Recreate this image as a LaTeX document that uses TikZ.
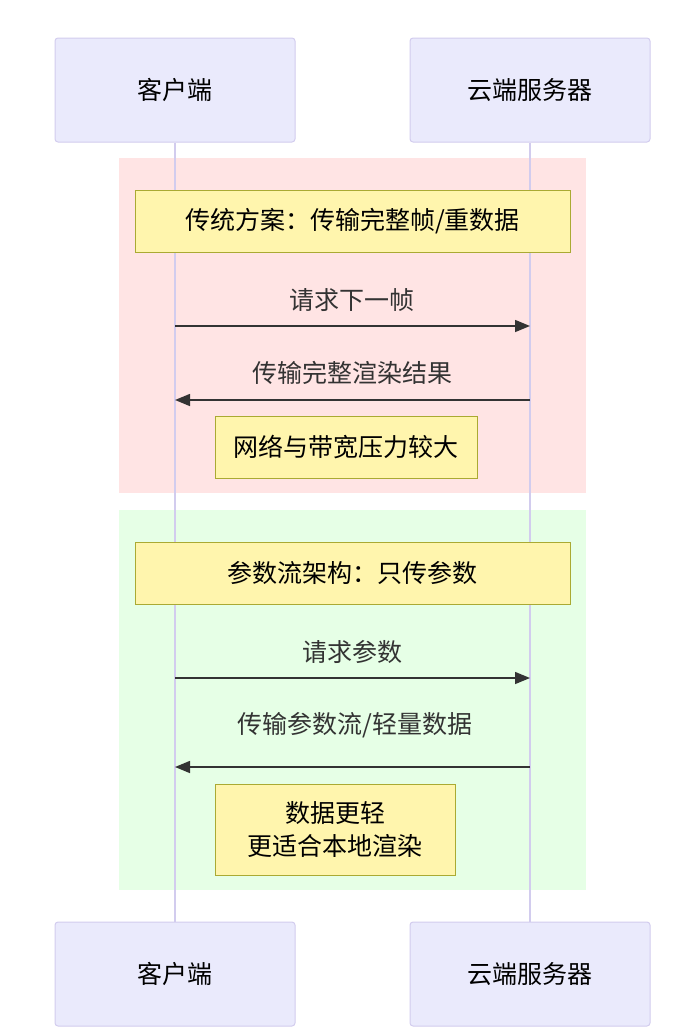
\documentclass[tikz,border=0pt]{standalone}
\usepackage{fontspec}
\setmainfont{Noto Sans CJK SC}
\usetikzlibrary{arrows.meta}
\definecolor{actfill}{HTML}{EAEAFC}
\definecolor{actline}{HTML}{D2CCEE}
\definecolor{notefill}{HTML}{FFF5AD}
\definecolor{noteline}{HTML}{AAAA33}
\definecolor{redbg}{HTML}{FFE4E4}
\definecolor{greenbg}{HTML}{E6FFE6}
\definecolor{msg}{HTML}{333333}
\begin{document}
\begin{tikzpicture}[
        x=1pt, y=-1pt,
        every node/.style = {font=\fontsize{25}{32}\selectfont, align=center},
        actor/.style = {draw=actline, fill=actfill, rounded corners=3pt, line width=1pt,
                        minimum width=240pt, minimum height=104pt},
        note/.style = {draw=noteline, fill=notefill, line width=1pt},
        msgline/.style = {draw=msg, line width=1.5pt, -{Triangle[length=15pt,width=12pt]}},
        msgtext/.style = {text=msg}
        ]
        \useasboundingbox (0,0) rectangle (690,1036);
        % groups
        \fill[redbg] (119,158) rectangle (586,493);
        \fill[greenbg] (119,510) rectangle (586,890);
        % actors
        \node[actor] (clientT) at (175,90) {客户端};
        \node[actor] (serverT) at (530,90) {云端服务器};
        \node[actor] (clientB) at (175,974) {客户端};
        \node[actor] (serverB) at (530,974) {云端服务器};
        \draw[actline, line width=1.5pt] (clientT) -- (clientB);
        \draw[actline, line width=1.5pt] (serverT) -- (serverB);
        % notes
        \node[note, minimum width=435pt, minimum height=62pt] (n1) at (352.5,221) {传统方案：传输完整帧/重数据};
        \node[note, minimum width=262pt, minimum height=62pt] (n2) at (346,447) {网络与带宽压力较大};
        \node[note, minimum width=435pt, minimum height=62pt] (n3) at (352.5,573) {参数流架构：只传参数};
        \node[note, minimum width=240pt, minimum height=91pt, font=\fontsize{25}{33}\selectfont] (n4) at (335,829.5) {数据更轻\\更适合本地渲染};
        % messages
        \coordinate (c1) at (175,326); \coordinate (s1) at (530,326);
        \coordinate (c2) at (175,400); \coordinate (s2) at (530,400);
        \coordinate (c3) at (175,678); \coordinate (s3) at (530,678);
        \coordinate (c4) at (175,767); \coordinate (s4) at (530,767);
        \draw[msgline] (c1) -- (s1);
        \draw[msgline] (s2) -- (c2);
        \draw[msgline] (c3) -- (s3);
        \draw[msgline] (s4) -- (c4);
        \node[msgtext] (m1) at (352,300) {请求下一帧};
        \node[msgtext] (m2) at (352,373) {传输完整渲染结果};
        \node[msgtext] (m3) at (352,652) {请求参数};
        \node[msgtext] (m4) at (355,725) {传输参数流/轻量数据};
\end{tikzpicture}
\end{document}
